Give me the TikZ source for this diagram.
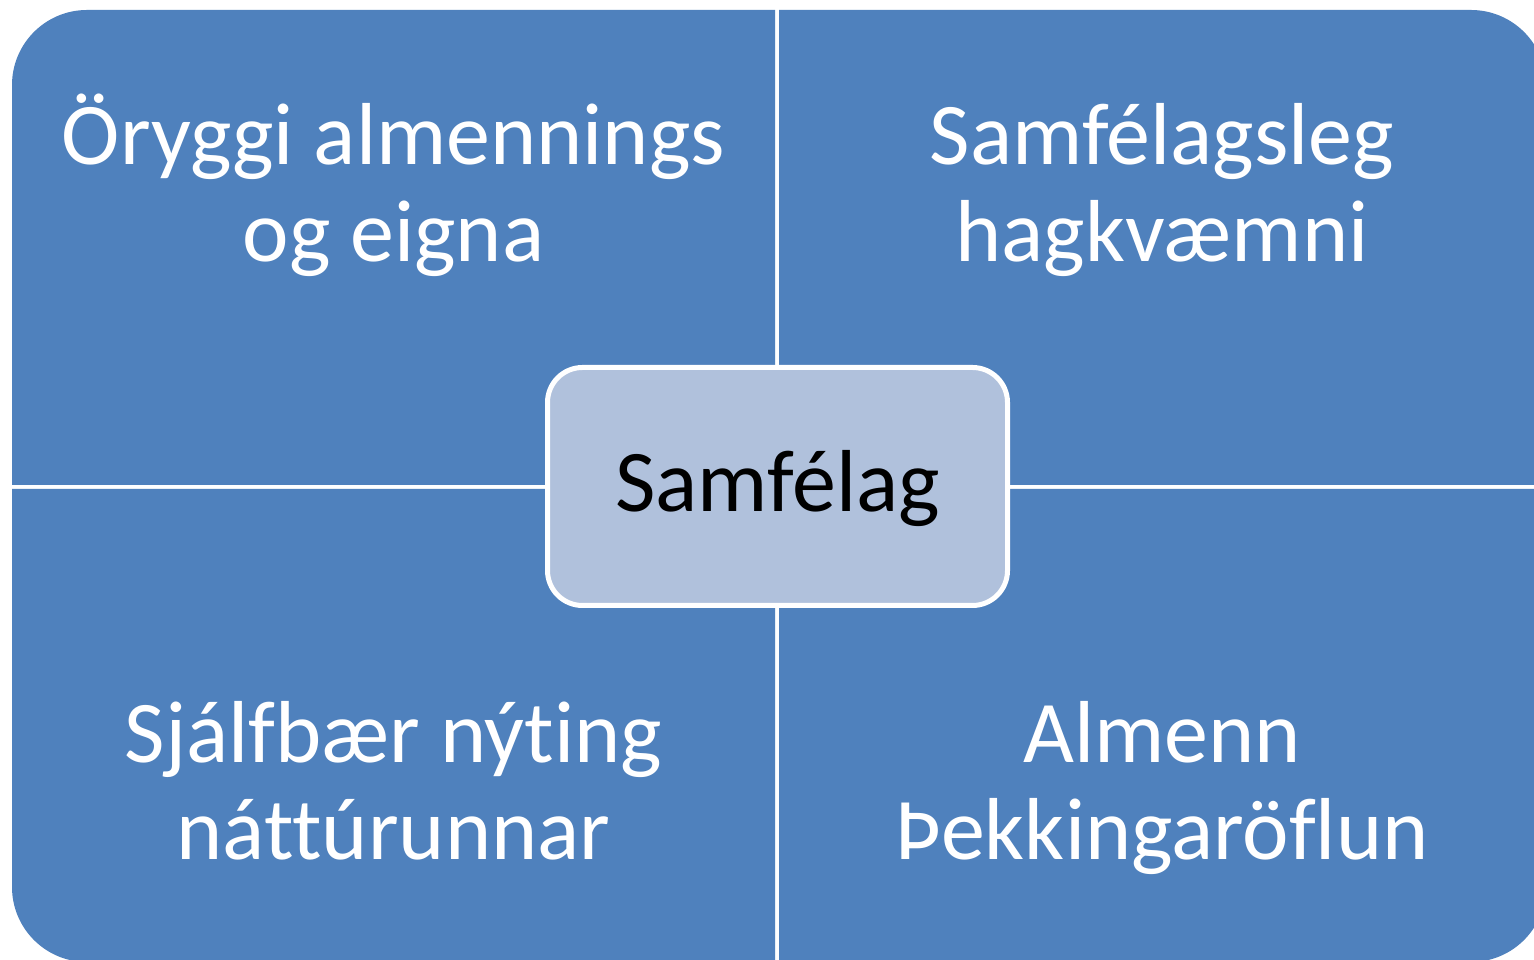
\documentclass[tikz,border=0pt]{standalone}
\usepackage{fontspec}
\setmainfont{Carlito}[Ligatures={NoCommon,NoContextual}]
\definecolor{quad}{HTML}{4F81BD}
\definecolor{hub}{HTML}{B0C1DC}
\begin{document}
\begin{tikzpicture}[x=1pt,y=1pt,
  quadfill/.style={fill=quad},
  quadtext/.style={text=white,align=center,inner sep=0pt,anchor=base,font=\fontsize{88}{97}\selectfont},
  hubbox/.style={draw=white,line width=5pt,fill=hub,rounded corners=35pt,minimum width=460pt,minimum height=238pt,text=black,text height=51pt,text depth=0pt,inner sep=0pt,font=\fontsize{88}{97}\selectfont}]
\useasboundingbox (0,0) rectangle (1534,960);
\fill[white] (0,0) rectangle (1534,960);
\begin{scope}
\clip (0,0) rectangle (1534,960);
% quadrants
\fill[quadfill] (775,475) -- (12,475) -- (12,875) arc[start angle=180,end angle=90,radius=75pt] -- (775,950) -- cycle;
\fill[quadfill] (779,475) -- (779,950) -- (1471,950) arc[start angle=90,end angle=0,radius=75pt] -- (1546,475) -- cycle;
\fill[quadfill] (775,471) -- (12,471) -- (12,73) arc[start angle=180,end angle=270,radius=75pt] -- (775,-2) -- cycle;
\fill[quadfill] (779,471) -- (1546,471) -- (1546,73) arc[start angle=0,end angle=-90,radius=75pt] -- (779,-2) -- cycle;
\end{scope}
\node[quadtext] (tl) at (393.5,698) {Öryggi almennings\\og eigna};
\node[quadtext] (tr) at (1162,698) {Samfélagsleg\\hagkvæmni};
\node[quadtext] (bl) at (393.5,100) {Sjálfbær nýting\\náttúrunnar};
\node[quadtext] (br) at (1162,100) {Almenn\\Þekkingaröflun};
\node[hubbox] (hub) at (777.5,473.5) {Samfélag};
\end{tikzpicture}
\end{document}
